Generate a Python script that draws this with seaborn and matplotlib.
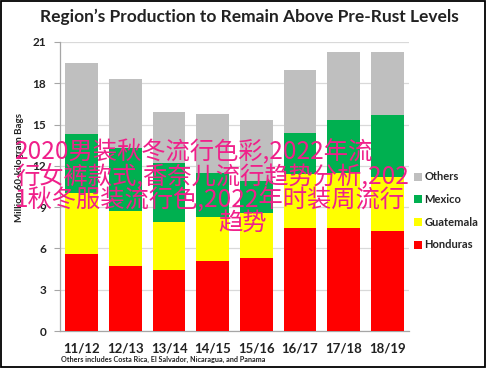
import numpy as np
import pandas as pd
import matplotlib
matplotlib.use("Agg")
import matplotlib.pyplot as plt
from matplotlib.lines import Line2D
from matplotlib.patches import Rectangle
import seaborn as sns

seasons = ["11/12", "12/13", "13/14", "14/15", "15/16", "16/17", "17/18", "18/19"]
honduras = [5.6, 4.7, 4.4, 5.1, 5.3, 7.5, 7.5, 7.3]
guatemala = [4.4, 4.0, 3.5, 3.2, 3.3, 3.9, 4.0, 3.9]
mexico = [4.3, 4.6, 4.3, 3.2, 2.3, 3.0, 3.8, 4.5]
others = [5.2, 5.0, 3.7, 4.3, 4.4, 4.6, 5.0, 4.6]
series_names = ["Honduras", "Guatemala", "Mexico", "Others"]
series_colors = ["#FF0000", "#FFFF00", "#00B050", "#BFBFBF"]
yticks = [0, 3, 6, 9, 12, 15, 18, 21]
title = "Region\u2019s Production to Remain Above Pre-Rust Levels"
ylabel = "Million 60-kilogram Bags"
footnote = "Others includes Costa Rica, El Salvador, Nicaragua, and Panama"
overlay_lines = ["2020男装秋冬流行色彩,2022年流",
                 "行女裤款式,香奈儿流行趋势分析,202",
                 "1秋冬服装流行色,2022年时装周流行",
                 "趋势"]

sns.set_theme(style="white")
plt.rcParams["font.family"] = ["Lato", "DejaVu Sans"]

fig = plt.figure(figsize=(4.87, 3.69), dpi=100)
fig.patch.set_facecolor("white")
ax = fig.add_axes([60 / 487, 1 - 331 / 369, 349 / 487, 289 / 369])

stack = np.cumsum(np.array([honduras, guatemala, mexico, others]), axis=0)
df = pd.DataFrame({"season": seasons})
for i in range(3, -1, -1):
    df["v"] = stack[i]
    sns.barplot(data=df, x="season", y="v", color=series_colors[i],
                saturation=1, width=0.75, ax=ax, zorder=3, linewidth=0)

ax.set_xlim(-0.5, 7.5)
ax.set_ylim(0, 21)
ax.set_yticks(yticks)
ax.set_yticklabels([str(t) for t in yticks], fontsize=8.5, fontweight="bold", color="#222222")
ax.set_xticks(range(len(seasons)))
ax.set_xticklabels(seasons, fontsize=9.5, fontweight="bold", color="#222222")
ax.set_xticks(np.arange(-0.5, 8, 1), minor=True)
ax.tick_params(axis="x", which="major", length=0, pad=8)
ax.tick_params(axis="x", which="minor", length=4, color="#A6A6A6", width=0.8, direction="out")
ax.tick_params(axis="y", which="major", length=4, color="#A6A6A6", width=0.8, direction="out", pad=6, left=True)
ax.set_xlabel("")
ax.set_ylabel("")
ax.grid(axis="y", color="#D9D9D9", linewidth=0.9, zorder=0)
ax.set_axisbelow(True)
for s in ["top", "right"]:
    ax.spines[s].set_visible(False)
for s in ["left", "bottom"]:
    ax.spines[s].set_color("#A6A6A6")
    ax.spines[s].set_linewidth(0.9)

fig.text(249 / 487, 1 - 17 / 369, title, ha="center", va="center",
         fontsize=12.5, fontweight="bold", color="#222222")
fig.text(20 / 487, 1 - 168 / 369, ylabel, ha="center", va="center", rotation=90,
         fontsize=7, fontweight="bold", color="#222222")
fig.text(61 / 487, 1 - 359 / 369, footnote, ha="left", va="center",
         fontsize=5.2, fontweight="bold", color="#222222")

handles = [Line2D([], [], marker="s", linestyle="", markersize=6,
                  markerfacecolor=series_colors[i], markeredgewidth=0)
           for i in range(3, -1, -1)]
labels = [series_names[i] for i in range(3, -1, -1)]
fig.legend(handles, labels, loc="center left", bbox_to_anchor=(409 / 487, 1 - 211 / 369),
           frameon=False, prop={"family": "Lato", "weight": "bold", "size": 8},
           handlelength=0.6, handletextpad=0.3, labelspacing=1.05, borderpad=0)

ys = [152, 176, 200, 223]
for j, (line, yy) in enumerate(zip(overlay_lines, ys)):
    if j < 3:
        fig.text(15 / 487, 1 - yy / 369, line, ha="left", va="center", fontsize=17.5,
                 color="#F0208A", family=["Noto Sans CJK SC", "DejaVu Sans"])
    else:
        fig.text(243 / 487, 1 - yy / 369, line, ha="center", va="center", fontsize=17.5,
                 color="#F0208A", family=["Noto Sans CJK SC", "DejaVu Sans"])

fig.patches.append(Rectangle((0.002, 0.005), 0.994, 0.993, transform=fig.transFigure,
                             fill=False, edgecolor="black", linewidth=1.3))

fig.savefig("out.png", dpi=100)
